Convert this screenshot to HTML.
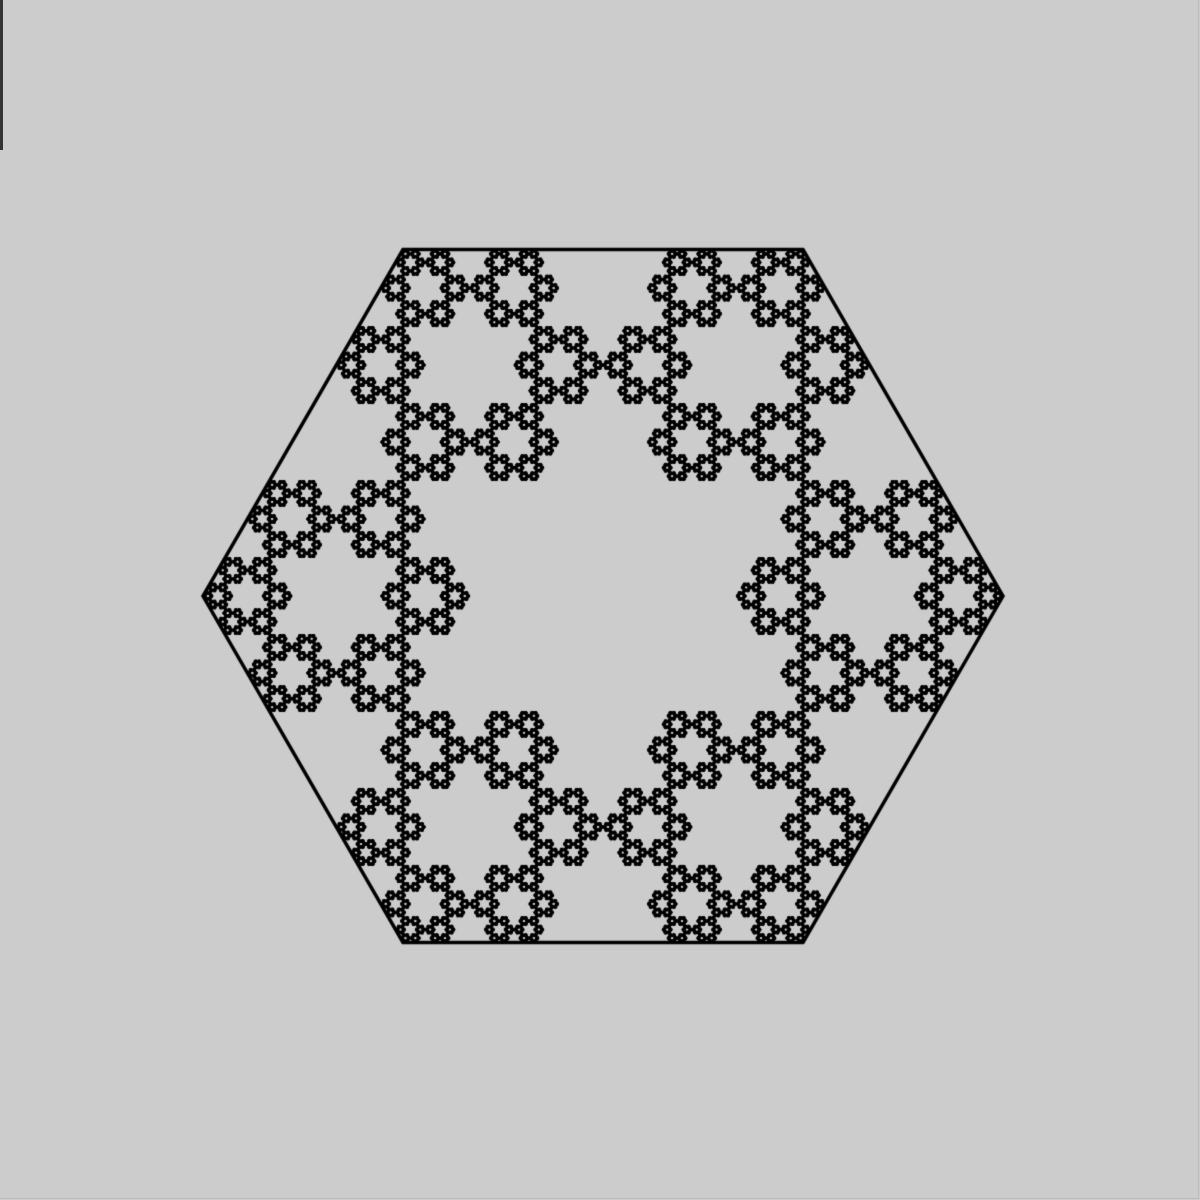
<!DOCTYPE html>
<html>
<head>
<meta charset="utf-8">
<style>
  html, body { margin: 0; padding: 0; background: #cccccc; }
  body { width: 1200px; height: 1200px; position: relative; overflow: hidden; }
  #frame { position: absolute; left: 0; top: 0; width: 1198px; height: 1198px; border-right: 1px solid #bbb; border-bottom: 1px solid #bbb; }
  #sidebar-mark { position: absolute; left: 0; top: 0; width: 3px; height: 150px; background: #333; }
  canvas { position: absolute; left: 0; top: 0; }
</style>
</head>
<body>
<div id="frame"></div>
<div id="sidebar-mark"></div>
<canvas id="c" width="1200" height="1200"></canvas>
<script>
// Fractal data: hexagon vertices in unit coords (angle degrees), contraction ratio, depth
const vertexAngles = [0, 60, 120, 180, 240, 300];
const contraction = [1/3];
const depthLevels = [7];
const centerX = 603, centerY = 596, radius = 400;

const cv = document.getElementById('c');
const ctx = cv.getContext('2d');

const verts = vertexAngles.map(a => [centerX + radius * Math.cos(a * Math.PI / 180),
                                     centerY - radius * Math.sin(a * Math.PI / 180)]);

// hexagon outline
ctx.strokeStyle = '#000';
ctx.lineWidth = 3.5;
ctx.lineJoin = 'miter';
ctx.beginPath();
verts.forEach((v, i) => i ? ctx.lineTo(v[0], v[1]) : ctx.moveTo(v[0], v[1]));
ctx.closePath();
ctx.stroke();

// deterministic IFS enumeration
const r = contraction[0];
ctx.fillStyle = '#000';
function rec(x, y, d) {
  if (d === 0) { ctx.fillRect(x - 0.65, y - 0.65, 1.3, 1.3); return; }
  for (let i = 0; i < verts.length; i++) {
    const v = verts[i];
    rec(v[0] + (x - v[0]) * r, v[1] + (y - v[1]) * r, d - 1);
  }
}
rec(centerX, centerY, depthLevels[0]);
</script>
</body>
</html>
